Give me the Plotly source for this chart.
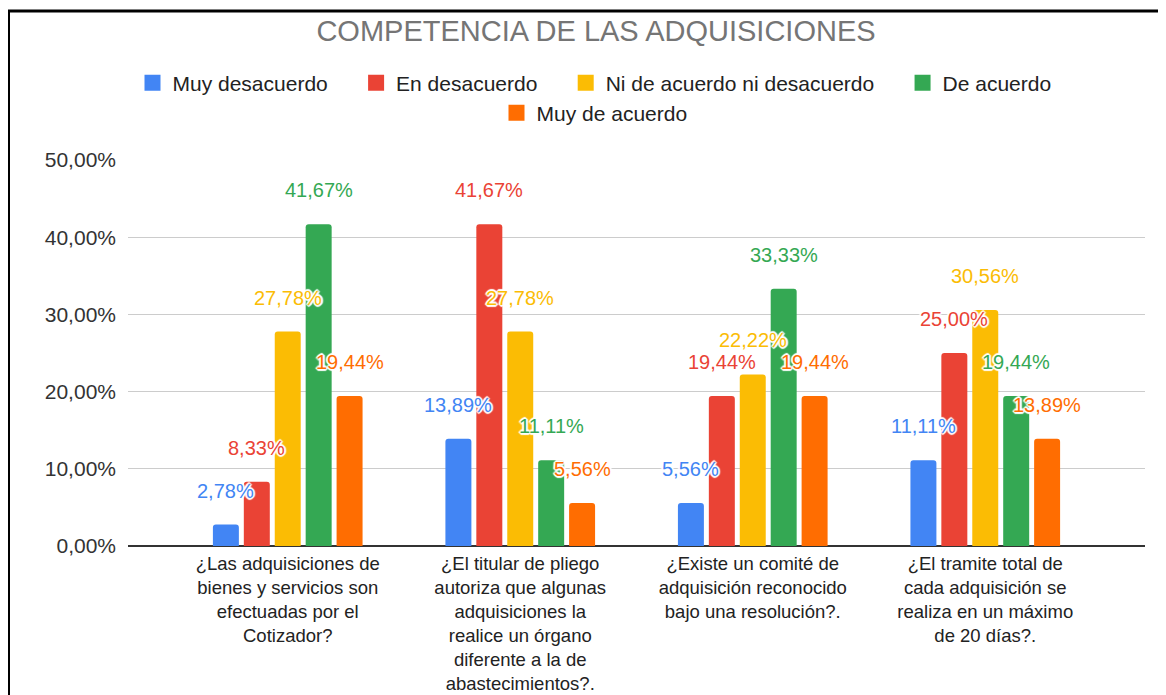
import plotly.graph_objects as go

# ---------------- data ----------------
title_text = "COMPETENCIA DE LAS ADQUISICIONES"
categories = [
    "¿Las adquisiciones de<br>bienes y servicios son<br>efectuadas por el<br>Cotizador?",
    "¿El titular de pliego<br>autoriza que algunas<br>adquisiciones la<br>realice un órgano<br>diferente a la de<br>abastecimientos?.",
    "¿Existe un comité de<br>adquisición reconocido<br>bajo una resolución?.",
    "¿El tramite total de<br>cada adquisición se<br>realiza en un máximo<br>de 20 días?.",
]
series_names = ["Muy desacuerdo", "En desacuerdo", "Ni de acuerdo ni desacuerdo",
                "De acuerdo", "Muy de acuerdo"]
muy_desacuerdo = [2.78, 13.89, 5.56, 11.11]
en_desacuerdo = [8.33, 41.67, 19.44, 25.00]
ni_ni = [27.78, 27.78, 22.22, 30.56]
de_acuerdo = [41.67, 11.11, 33.33, 19.44]
muy_de_acuerdo = [19.44, 5.56, 19.44, 13.89]
series_values = [muy_desacuerdo, en_desacuerdo, ni_ni, de_acuerdo, muy_de_acuerdo]
colors = ["#4285F4", "#EA4335", "#FBBC04", "#34A853", "#FF6D01"]
tick_vals = [0, 10, 20, 30, 40, 50]
tick_text = ["0,00%", "10,00%", "20,00%", "30,00%", "40,00%", "50,00%"]

# ---------------- layout params ----------------
OFF = 8                       # page body margin
PAGE_W, PAGE_H = 1166, 695
W, H = PAGE_W - OFF, PAGE_H - OFF
ML, MR, MT, MB = 128 - OFF, 21, 160 - OFF, PAGE_H - 546
FONT = "Arial, 'Liberation Sans', sans-serif"
BARGAP = 0.335
BARGROUPGAP = 0.16
XPAD = 0.187
LEGEND_PAD = "\u00a0" * 4     # extra spacing after each legend entry

fig = go.Figure()
n = len(series_names)
xi = list(range(len(categories)))
for k, (name, vals, col) in enumerate(zip(series_names, series_values, colors)):
    fig.add_trace(go.Bar(
        x=xi, y=vals, name=name, marker=dict(color=col, cornerradius=3, line=dict(width=0)),
        showlegend=False, hoverinfo="skip",
    ))
    # legend entries
    fig.add_trace(go.Scatter(
        x=[None], y=[None], mode="markers", name=name + LEGEND_PAD,
        marker=dict(symbol="square", size=16, color=col),
        legend="legend2" if k == n - 1 else "legend",
    ))

# data labels, placed over the centre of each grouped bar
group_w = 1 - BARGAP
slot = group_w / n
shadow = ("1px 1px 1px #fff, -1px -1px 1px #fff, 1px -1px 1px #fff, -1px 1px 1px #fff, "
          "0 2px 1px #fff, 0 -2px 1px #fff, 2px 0 1px #fff, -2px 0 1px #fff")
annotations = []
for k, (vals, col) in enumerate(zip(series_values, colors)):
    for i, v in enumerate(vals):
        xc = i - group_w / 2 + slot * (k + 0.5)
        annotations.append(dict(
            x=xc, y=v, xref="x", yref="y", text=f"{v:.2f}%".replace(".", ","),
            showarrow=False, yshift=34,
            font=dict(family=FONT, size=20, color=col, shadow=shadow),
        ))

pw = W - ML - MR
ph = H - MT - MB
def px_x(p):  # page pixel -> paper x
    return (p - OFF - ML) / pw
def px_y(p):  # page pixel -> paper y
    return (H - MB - (p - OFF)) / ph

# black frame (left and top edges)
fx0, fy0 = px_x(8.5), px_y(11)
fig.add_shape(type="path", xref="paper", yref="paper",
              path=f"M {fx0} {px_y(PAGE_H + 10)} L {fx0} {fy0} L {px_x(PAGE_W + 10)} {fy0}",
              line=dict(color="black", width=3), layer="above")

fig.update_layout(
    width=W, height=H,
    margin=dict(l=ML, r=MR, t=MT, b=MB, autoexpand=False),
    paper_bgcolor="white", plot_bgcolor="white",
    barmode="group", bargap=BARGAP, bargroupgap=BARGROUPGAP,
    font=dict(family=FONT, color="#333333"),
    title=dict(text=title_text, x=px_x(596), xref="paper", xanchor="center",
               y=1 - (31 - OFF) / H, yanchor="middle",
               font=dict(family=FONT, size=29, color="#757575")),
    legend=dict(orientation="h", x=px_x(606), xanchor="center", y=px_y(83), yanchor="middle",
                font=dict(family=FONT, size=21, color="#222222"), itemwidth=30,
                bgcolor="rgba(0,0,0,0)"),
    legend2=dict(orientation="h", x=px_x(606), xanchor="center", y=px_y(113), yanchor="middle",
                 font=dict(family=FONT, size=21, color="#222222"), itemwidth=30,
                 bgcolor="rgba(0,0,0,0)"),
    xaxis=dict(tickmode="array", tickvals=xi, ticktext=categories,
               range=[-0.5 - XPAD, len(categories) - 0.5 + XPAD],
               showgrid=False, zeroline=False, showline=False, ticks="",
               ticklabelstandoff=4,
               tickfont=dict(family=FONT, size=18.5, color="#222222")),
    yaxis=dict(range=[0, 50], tickvals=tick_vals, ticktext=tick_text,
               showgrid=True, gridcolor="#cccccc", gridwidth=1.2,
               zeroline=True, zerolinecolor="#333333", zerolinewidth=1.5,
               showline=False, ticks="", ticklabelstandoff=11,
               tickfont=dict(family=FONT, size=21, color="#333333")),
    annotations=annotations,
)

fig.write_html("out.html")
